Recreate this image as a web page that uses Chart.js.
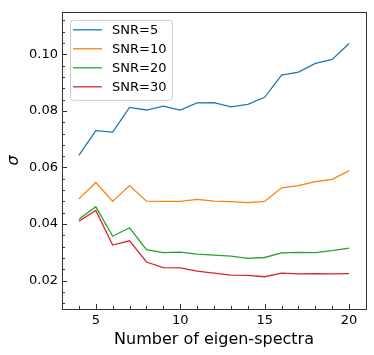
<!DOCTYPE html>
<html><head><meta charset="utf-8">
<script src="https://cdn.jsdelivr.net/npm/chart.js@4"></script>
<style>html,body{margin:0;padding:0;background:#fff}#wrap{width:374px;height:355px}</style>
</head><body><div id="wrap"><canvas id="c" width="374" height="355"></canvas></div>
<script>
const eigenCounts = [4,5,6,7,8,9,10,11,12,13,14,15,16,17,18,19,20];
const snr5  = [0.0643,0.0730,0.0725,0.0812,0.0803,0.0817,0.0803,0.0828,0.0829,0.0814,0.0823,0.0848,0.0926,0.0937,0.0968,0.0982,0.1038];
const snr10 = [0.0489,0.0547,0.0480,0.0536,0.0481,0.0480,0.0480,0.0487,0.0481,0.0479,0.0476,0.0480,0.0528,0.0536,0.0550,0.0558,0.0589];
const snr20 = [0.0417,0.0461,0.0357,0.0387,0.0310,0.0299,0.0301,0.0294,0.0290,0.0287,0.0279,0.0282,0.0298,0.0300,0.0299,0.0306,0.0315];
const snr30 = [0.0410,0.0448,0.0326,0.0341,0.0266,0.0246,0.0245,0.0234,0.0227,0.0220,0.0219,0.0214,0.0227,0.0224,0.0225,0.0224,0.0225];
const seriesLabels = ['SNR=5','SNR=10','SNR=20','SNR=30'];
const seriesColors = ['#1f77b4','#ff7f0e','#2ca02c','#d62728'];
const xTicks = [5,10,15,20];
const yTicks = [0.02,0.04,0.06,0.08,0.10];
const yTickLabels = ['0.02','0.04','0.06','0.08','0.10'];
const xLabel = 'Number of eigen-spectra';
const yLabel = 'σ';

const FONT = '"DejaVu Sans", sans-serif';
const allSeries = [snr5, snr10, snr20, snr30];
const datasets = allSeries.map((s, i) => ({
  label: seriesLabels[i],
  data: eigenCounts.map((x, j) => ({x: x, y: s[j]})),
  borderColor: seriesColors[i],
  backgroundColor: seriesColors[i],
  borderWidth: 1.3,
  pointRadius: 0,
  tension: 0,
  fill: false
}));

const framePlugin = {
  id: 'frame',
  afterDraw(chart) {
    const ctx = chart.ctx, a = chart.chartArea;
    const xs = chart.scales.x, ys = chart.scales.y;
    ctx.save();
    ctx.strokeStyle = '#333';
    ctx.lineWidth = 1;
    ctx.beginPath();
    for (let v = 3; v <= 21; v += 1) {
      const px = Math.round(xs.getPixelForValue(v)) + 0.5;
      const len = xTicks.includes(v) ? 5 : 3;
      ctx.moveTo(px, a.bottom); ctx.lineTo(px, a.bottom - len);
    }
    for (let k = 3; k <= 28; k++) {
      const v = k * 0.004;
      if (v < ys.min || v > ys.max) continue;
      const py = Math.round(ys.getPixelForValue(v)) + 0.5;
      const major = (k % 5 === 0);
      const len = major ? 5 : 3;
      ctx.moveTo(a.left, py); ctx.lineTo(a.left + len, py);
    }
    ctx.stroke();
    ctx.strokeRect(Math.round(a.left) + 0.5, Math.round(a.top) + 0.5, Math.round(a.right - a.left), Math.round(a.bottom - a.top));
    ctx.restore();
  }
};

const legendPlugin = {
  id: 'boxLegend',
  afterDatasetsDraw(chart) {
    const ctx = chart.ctx, a = chart.chartArea;
    const x0 = a.left + 8, y0 = a.top + 8, w = 102, h = 80, r = 3;
    ctx.save();
    ctx.fillStyle = 'rgba(255,255,255,0.8)';
    ctx.strokeStyle = '#cccccc';
    ctx.lineWidth = 1;
    ctx.beginPath();
    ctx.roundRect(x0 + 0.5, y0 + 0.5, w, h, r);
    ctx.fill();
    ctx.stroke();
    ctx.font = '13px ' + FONT;
    ctx.textBaseline = 'middle';
    ctx.fillStyle = '#000';
    seriesLabels.forEach((lab, i) => {
      const yy = y0 + 10 + i * 19;
      ctx.strokeStyle = seriesColors[i];
      ctx.lineWidth = 1.3;
      ctx.beginPath();
      ctx.moveTo(x0 + 3, yy); ctx.lineTo(x0 + 32, yy);
      ctx.stroke();
      ctx.fillText(lab, x0 + 42, yy + 1);
    });
    ctx.restore();
  }
};

new Chart(document.getElementById('c'), {
  type: 'line',
  data: { datasets: datasets },
  options: {
    responsive: false,
    animation: false,
    devicePixelRatio: 1,
    layout: { padding: { top: 7, right: 8, left: 0, bottom: 0 } },
    plugins: { legend: { display: false }, tooltip: { enabled: false } },
    scales: {
      x: {
        type: 'linear', min: 3, max: 21,
        grid: { display: false, drawTicks: false },
        border: { display: false },
        afterBuildTicks: s => { s.ticks = xTicks.map(v => ({ value: v })); },
        afterFit: s => { s.height = 46; },
        ticks: { color: '#000', padding: 4, font: { family: FONT, size: 13 }, maxRotation: 0, callback: v => String(v) },
        title: { display: true, text: xLabel, color: '#000', font: { family: FONT, size: 16 }, padding: { top: 0, bottom: 6 } }
      },
      y: {
        type: 'linear', min: 0.01, max: 0.115,
        grid: { display: false, drawTicks: false },
        border: { display: false },
        afterBuildTicks: s => { s.ticks = yTicks.map(v => ({ value: v })); },
        afterFit: s => { s.width = 62; },
        ticks: { color: '#000', padding: 4, font: { family: FONT, size: 13 },
          callback: (v) => { const i = yTicks.findIndex(t => Math.abs(t - v) < 1e-9); return i >= 0 ? yTickLabels[i] : ''; } },
        title: { display: true, text: yLabel, color: '#000', font: { family: FONT, size: 16, style: 'italic' }, padding: { top: 4, bottom: 0 } }
      }
    }
  },
  plugins: [framePlugin, legendPlugin]
});
</script></body></html>
